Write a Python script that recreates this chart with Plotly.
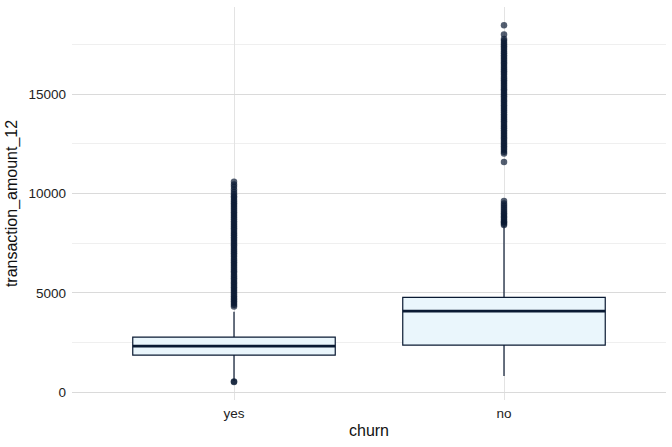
import plotly.graph_objects as go

# box statistics per churn group
groups = ["yes", "no"]
q1 = [1863, 2367]
median = [2316, 4079]
q3 = [2770, 4768]
lower_fence = [560, 806]
upper_fence = [4045, 8350]
y_ticks = [0, 5000, 10000, 15000]

# outliers
yes_outliers = [510, 535,
    4310, 4405, 4490, 4580, 4660, 4745, 4830, 4920, 5010, 5105, 5190, 5280,
    5370, 5465, 5550, 5640, 5735, 5820, 5910, 6005, 6090, 6180, 6275, 6360,
    6450, 6545, 6630, 6720, 6815, 6900, 6990, 7085, 7170, 7260, 7355, 7440,
    7530, 7625, 7710, 7800, 7895, 7980, 8070, 8165, 8250, 8340, 8435, 8520,
    8610, 8705, 8790, 8880, 8975, 9060, 9150, 9245, 9330, 9420, 9515, 9600,
    9690, 9785, 9870, 9960, 10080, 10210, 10340, 10460, 10590,
]
no_outliers = [
    8420, 8480, 8550, 8610, 8700, 8780, 8850, 8930, 9010, 9100, 9200, 9300,
    9400, 9500, 9620,
    11597, 12020, 12110, 12205, 12290, 12380, 12475, 12560, 12650, 12745,
    12830, 12920, 13015, 13100, 13190, 13285, 13370, 13460, 13555, 13640,
    13730, 13825, 13910, 14000, 14095, 14180, 14270, 14365, 14450, 14540,
    14635, 14720, 14810, 14905, 14990, 15080, 15175, 15260, 15350, 15445,
    15530, 15620, 15715, 15800, 15890, 15985, 16070, 16160, 16255, 16340,
    16430, 16525, 16610, 16700, 16795, 16880, 16970, 17065, 17150, 17240,
    17335, 17420, 17510, 17605, 17700, 17790, 18010, 18480,
]

navy = "#0a1a33"
fig = go.Figure()

fig.add_trace(go.Box(
    x=groups, q1=q1, median=median, q3=q3,
    lowerfence=lower_fence, upperfence=upper_fence,
    width=0.75, whiskerwidth=0,
    fillcolor="#eaf6fc", line=dict(color=navy, width=1.2),
    hoverinfo="skip", showlegend=False,
))

# thicker median line on top
fig.add_trace(go.Box(
    x=groups, q1=median, median=median, q3=median,
    lowerfence=median, upperfence=median,
    width=0.75, whiskerwidth=0,
    fillcolor="rgba(0,0,0,0)", line=dict(color=navy, width=2.6),
    hoverinfo="skip", showlegend=False,
))

out_x = ["yes"] * len(yes_outliers) + ["no"] * len(no_outliers)
out_y = yes_outliers + no_outliers
fig.add_trace(go.Scatter(
    x=out_x, y=out_y, mode="markers",
    marker=dict(size=6.5, color="rgba(10,26,51,0.7)", line=dict(width=0)),
    hoverinfo="skip", showlegend=False,
))

fig.update_layout(
    width=672, height=447,
    margin=dict(l=72, r=6, t=7, b=47),
    plot_bgcolor="white", paper_bgcolor="white",
    boxmode="overlay",
    font=dict(family="Liberation Sans, Arial, sans-serif", size=13, color="#222222"),
)
fig.update_xaxes(
    categoryorder="array", categoryarray=groups, range=[-0.6, 1.6],
    showgrid=True, gridcolor="#e3e3e3", gridwidth=1, zeroline=False,
    ticks="", ticklabelstandoff=3, automargin=False,
    tickfont=dict(size=13.5, color="#222222"),
    title=dict(text="churn", font=dict(size=16, color="#111111"), standoff=5),
)
fig.update_yaxes(
    range=[-400, 19400], tickvals=y_ticks, tickformat="d",
    showgrid=True, gridcolor="#dadada", gridwidth=1, zeroline=False,
    minor=dict(tickvals=[2500, 7500, 12500, 17500], showgrid=True,
               gridcolor="#efefef", gridwidth=0.8),
    ticks="", ticklabelstandoff=5, automargin=False,
    tickfont=dict(size=13.5, color="#222222"),
    title=dict(text="transaction_amount_12", font=dict(size=16, color="#111111"), standoff=6),
)

# drop the default page margin so the figure sits at the window corner
fig.write_html("out.html", config={"displayModeBar": False},
               post_script="document.body.style.margin='0';")
